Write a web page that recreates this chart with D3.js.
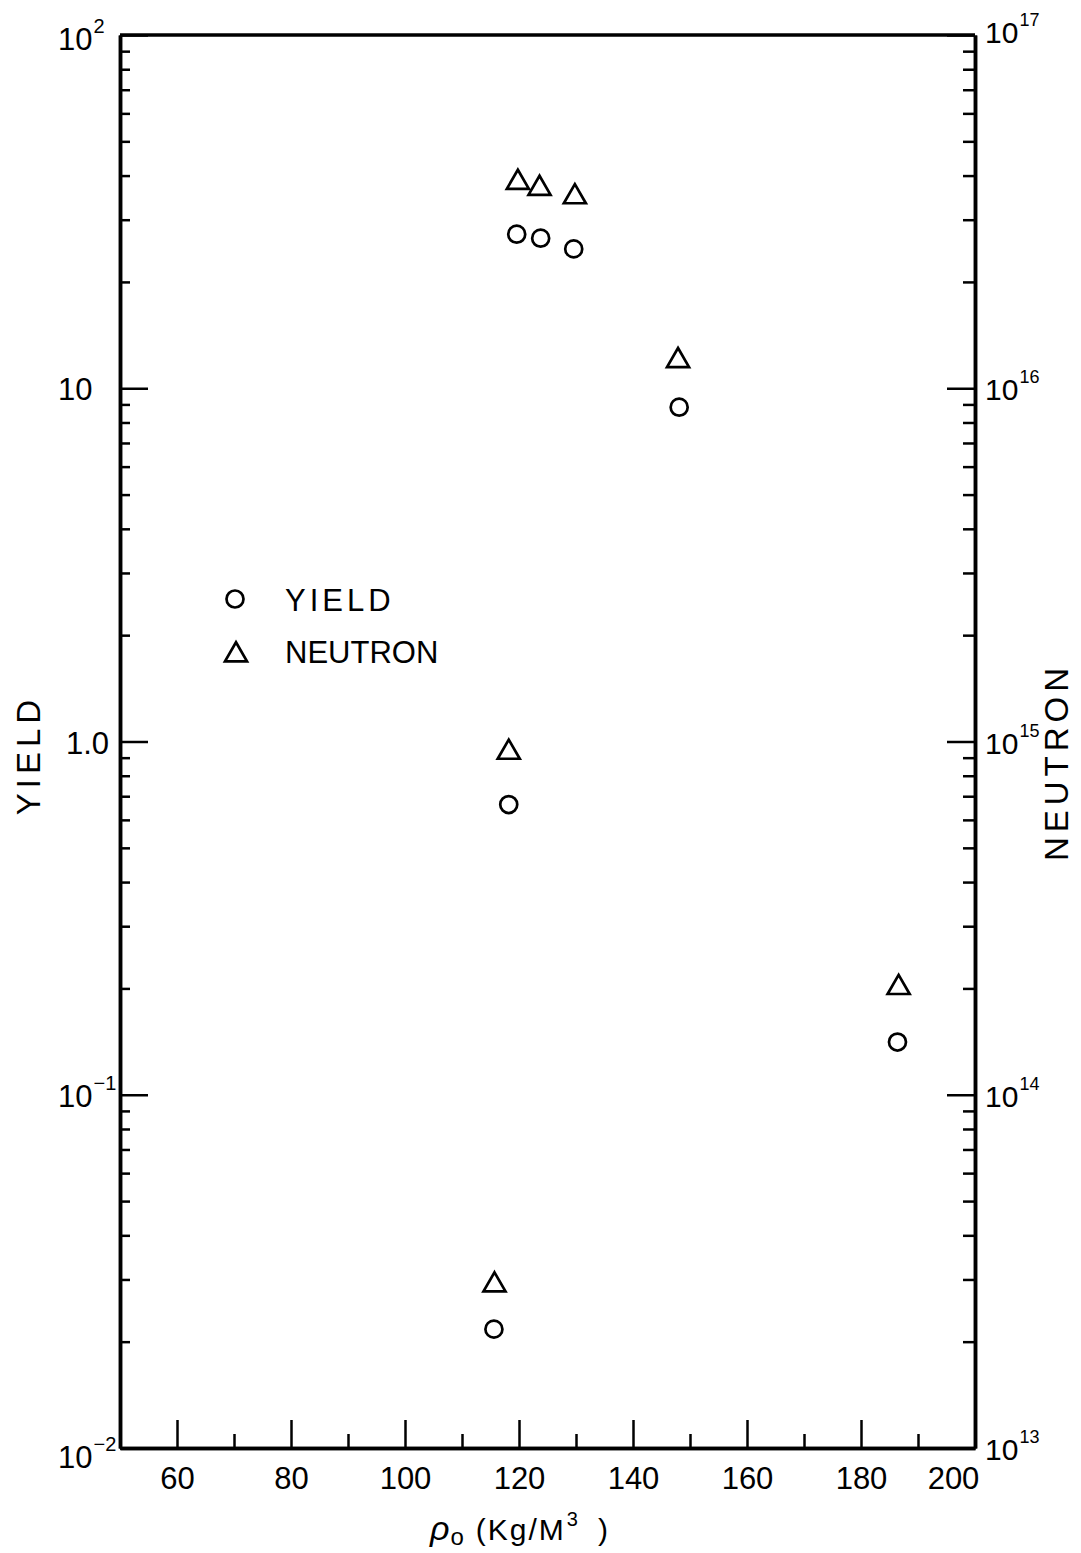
<!DOCTYPE html>
<html><head><meta charset="utf-8">
<script src="https://cdn.jsdelivr.net/npm/d3@7"></script>
<style>
body{margin:0;background:#fff}
text{font-family:"Liberation Sans",Arial,sans-serif;fill:#000}
</style>
</head><body>
<svg id="c" width="1081" height="1553"></svg>
<script>
// ---- data ----
const densityYield   = [119.6, 123.8, 129.6, 148.1, 118.2, 115.6, 186.4];
const yieldValues    = [27.3, 26.6, 24.8, 8.84, 0.663, 0.0217, 0.141];
const densityNeutron = [119.8, 123.6, 129.8, 147.9, 118.2, 115.7, 186.6];
const neutronValues  = [3.9e16, 3.75e16, 3.55e16, 1.22e16, 9.5e14, 2.95e13, 2.05e14];

const xMajorTicks = [60, 80, 100, 120, 140, 160, 180, 200];
const xMinorTicks = [70, 90, 110, 130, 150, 170, 190];
const leftDecades  = [0.01, 0.1, 1, 10, 100];
const leftLabels   = [["10","-2"], ["10","-1"], ["1.0",""], ["10",""], ["10","2"]];
const rightDecades = [1e13, 1e14, 1e15, 1e16, 1e17];
const rightLabels  = [["10","13"], ["10","14"], ["10","15"], ["10","16"], ["10","17"]];
const legendItems  = ["YIELD", "NEUTRON"];

// ---- layout ----
const L = 120, R = 975, T = 35, B = 1448;
const svg = d3.select("#c");
const x = d3.scaleLinear().domain([50, 200]).range([L, R]);
const yL = d3.scaleLog().domain([0.01, 100]).range([B, T]);
const yR = d3.scaleLog().domain([1e13, 1e17]).range([B, T]);

function minorOf(decades) {
  const out = [];
  for (let i = 0; i < decades.length - 1; i++)
    for (let m = 2; m <= 9; m++) out.push(decades[i] * m);
  return out;
}

function styleAxis(g, w) {
  g.select(".domain").attr("stroke", "#000").attr("stroke-width", 3.5);
  g.selectAll(".tick line").attr("stroke", "#000").attr("stroke-width", w);
  g.selectAll(".tick text").remove();
}

// top line
svg.append("line").attr("x1", L).attr("x2", R).attr("y1", T).attr("y2", T)
  .attr("stroke", "#000").attr("stroke-width", 3.5);

// x axis
const gxMaj = svg.append("g").attr("transform", `translate(0,${B})`)
  .call(d3.axisBottom(x).tickValues(xMajorTicks).tickSizeInner(-28).tickSizeOuter(0).tickPadding(19));
gxMaj.select(".domain").attr("stroke", "#000").attr("stroke-width", 3.5);
gxMaj.selectAll(".tick line").attr("stroke", "#000").attr("stroke-width", 2.5);
gxMaj.selectAll(".tick text").attr("font-size", 31).attr("font-family", "Liberation Sans, Arial, sans-serif")
  .attr("dx", d => d === 200 ? -22 : 0);
const gxMin = svg.append("g").attr("transform", `translate(0,${B})`)
  .call(d3.axisBottom(x).tickValues(xMinorTicks).tickSizeInner(-14).tickSizeOuter(0).tickFormat(""));
styleAxis(gxMin, 2.5);

// left axis
const gyL = svg.append("g").attr("transform", `translate(${L},0)`)
  .call(d3.axisLeft(yL).tickValues(leftDecades).tickSizeInner(-28).tickSizeOuter(0).tickFormat(""));
styleAxis(gyL, 2.5);
const gyLm = svg.append("g").attr("transform", `translate(${L},0)`)
  .call(d3.axisLeft(yL).tickValues(minorOf(leftDecades)).tickSizeInner(-10).tickSizeOuter(0).tickFormat(""));
styleAxis(gyLm, 2.5);

// right axis
const gyR = svg.append("g").attr("transform", `translate(${R},0)`)
  .call(d3.axisRight(yR).tickValues(rightDecades).tickSizeInner(-28).tickSizeOuter(0).tickFormat(""));
styleAxis(gyR, 2.5);
const gyRm = svg.append("g").attr("transform", `translate(${R},0)`)
  .call(d3.axisRight(yR).tickValues(minorOf(rightDecades)).tickSizeInner(-12).tickSizeOuter(0).tickFormat(""));
styleAxis(gyRm, 2.5);

// left tick labels
leftDecades.forEach((v, i) => {
  const [base, sup] = leftLabels[i];
  const dy = i === 0 ? 20 : (i === leftDecades.length - 1 ? 15 : 12);
  const t = svg.append("text").attr("x", base === "1.0" ? 66 : 58).attr("y", yL(v) + dy)
    .attr("font-size", 31);
  t.append("tspan").text(base);
  if (sup) {
    t.append("tspan").attr("font-size", 20).attr("dy", -17).attr("dx", 1)
      .text(sup.replace("-", "\u2212"));
  }
});

// right tick labels
rightDecades.forEach((v, i) => {
  const [base, sup] = rightLabels[i];
  const t = svg.append("text").attr("x", 985)
    .attr("y", yR(v) + (i === rightDecades.length - 1 ? 8 : 12))
    .attr("font-size", 30);
  t.append("tspan").text(base);
  t.append("tspan").attr("font-size", 18).attr("dy", -17).attr("dx", 1).text(sup);
});

// axis titles
svg.append("text").attr("transform", "translate(40,755) rotate(-90)")
  .attr("text-anchor", "middle").attr("font-size", 33).attr("letter-spacing", 5).text("YIELD");
svg.append("text").attr("transform", "translate(1068,762) rotate(-90)")
  .attr("text-anchor", "middle").attr("font-size", 33).attr("letter-spacing", 5).text("NEUTRON");

const xl = svg.append("text").attr("x", 430).attr("y", 1540).attr("font-size", 30);
xl.append("tspan").attr("font-style", "italic").attr("font-size", 34).text("\u03C1");
xl.append("tspan").attr("font-size", 24).attr("dy", 5).attr("dx", 1).text("o");
xl.append("tspan").attr("dy", -5).attr("dx", 12).attr("letter-spacing", 2).text("(Kg/M");
xl.append("tspan").attr("font-size", 20).attr("dy", -14).attr("dx", 1).text("3");
xl.append("tspan").attr("dy", 14).attr("dx", 20).text(")");

// symbols
const tri = d3.symbol().type(d3.symbolTriangle).size(210);

svg.append("g").selectAll("circle").data(densityYield).join("circle")
  .attr("cx", d => x(d)).attr("cy", (d, i) => yL(yieldValues[i])).attr("r", 8.5)
  .attr("fill", "none").attr("stroke", "#000").attr("stroke-width", 2.7);

svg.append("g").selectAll("path").data(densityNeutron).join("path")
  .attr("d", tri)
  .attr("transform", (d, i) => `translate(${x(d)},${yR(neutronValues[i]) + 3})`)
  .attr("fill", "none").attr("stroke", "#000").attr("stroke-width", 2.7).attr("stroke-linejoin", "miter");

// legend
const lg = svg.append("g");
lg.append("circle").attr("cx", 235).attr("cy", 599).attr("r", 8.5)
  .attr("fill", "none").attr("stroke", "#000").attr("stroke-width", 2.7);
lg.append("path").attr("d", tri).attr("transform", "translate(236,655)")
  .attr("fill", "none").attr("stroke", "#000").attr("stroke-width", 2.7);
legendItems.forEach((s, i) => {
  lg.append("text").attr("x", 285).attr("y", 611 + i * 52).attr("font-size", 31)
    .attr("letter-spacing", i === 0 ? 4 : 0).text(s);
});
</script>
</body></html>
